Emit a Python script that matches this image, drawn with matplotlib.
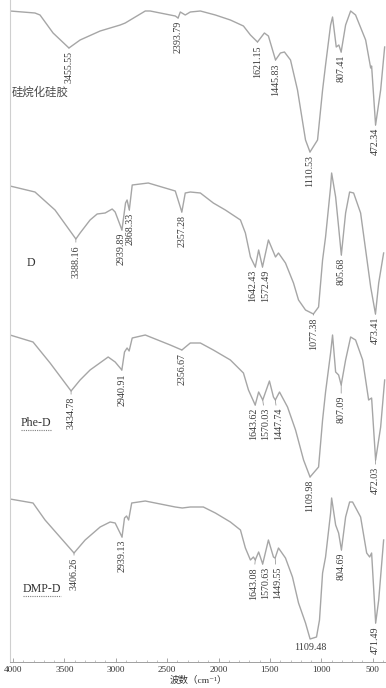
import numpy as np
import matplotlib
matplotlib.use('Agg')
import matplotlib.pyplot as plt
from matplotlib.ticker import MultipleLocator
from matplotlib.lines import Line2D
from matplotlib.transforms import IdentityTransform

plt.rcParams['font.family'] = ['Liberation Serif', 'Noto Sans CJK SC', 'DejaVu Serif']

# sample names, top to bottom
names = ['硅烷化硅胶', 'D', 'Phe-D', 'DMP-D']

# IR spectra: wavenumber (cm-1) and absorption depth (a.u., down = stronger)
wn_sg = [4029, 3786, 3737, 3610, 3455.55, 3347, 3152, 2957, 2908, 2713, 2665, 2421, 2393.79, 2372,
         2324, 2275, 2177, 2031, 1885, 1758, 1690, 1621.15, 1554, 1515, 1445.83, 1398, 1359, 1300,
         1232, 1154, 1110.53, 1037, 988, 959, 910, 891, 855, 830, 807.41, 764, 715, 667, 569, 520,
         511, 472.34, 423, 384]
dep_sg = [1, 3, 5, 23, 38, 30, 21, 15, 13, 1, 1, 6, 8, 2,
          5, 2, 1, 5, 10, 16, 25, 32, 23, 26, 50, 43, 42, 50,
          80, 130, 142, 130, 80, 55, 15, 7, 37, 35, 42, 15, 1, 5, 30, 58,
          56, 115, 80, 37]

wn_d = [4029, 3786, 3591, 3388.16, 3347, 3250, 3181, 3103, 3035, 3006, 2939.89, 2905, 2890, 2868.33,
        2840, 2684, 2421, 2357.28, 2324, 2275, 2177, 2051, 1934, 1787, 1739, 1690, 1642.43, 1610,
        1572.49, 1515, 1446, 1417, 1349, 1271, 1222, 1154, 1077.38, 1027, 988, 959, 910, 900, 861,
        832, 805.68, 764, 725, 686, 618, 569, 520, 473.41, 442, 394]
dep_d = [3, 9, 27, 56, 50, 37, 31, 30, 26, 29, 47, 20, 17, 27,
         2, 0, 8, 29, 10, 9, 10, 20, 27, 37, 50, 74, 84, 67,
         84, 57, 74, 70, 80, 100, 117, 127, 131, 124, 77, 54, 4, -10, 14,
         44, 72, 30, 9, 10, 30, 67, 104, 131, 100, 70]

wn_phe = [4029, 3805, 3639, 3434.78, 3347, 3250, 3074, 3006, 2940.91, 2915, 2890, 2870, 2840, 2713,
          2470, 2356.67, 2275, 2177, 2051, 1885, 1758, 1709, 1643.62, 1610, 1570.03, 1505, 1466,
          1447.74, 1407, 1329, 1251, 1173, 1109.98, 1027, 988, 959, 910, 891, 861, 832, 807.09, 764,
          715, 667, 598, 540, 511, 472.03, 423, 384]
dep_phe = [0, 7, 28, 56, 45, 35, 22, 27, 35, 17, 13, 16, 3, 0,
           10, 15, 8, 8, 15, 25, 38, 55, 70, 57, 65, 46, 62,
           65, 57, 72, 95, 125, 142, 132, 85, 57, 18, 0, 37, 40, 50, 25,
           2, 5, 25, 65, 63, 125, 92, 45]

wn_dmp = [4029, 3805, 3688, 3406.26, 3298, 3152, 3055, 3006, 2939.13, 2915, 2895, 2875, 2845, 2713,
          2421, 2353, 2275, 2148, 2031, 1885, 1787, 1739, 1690, 1661, 1643.08, 1610, 1570.63, 1515,
          1466, 1449.55, 1417, 1349, 1281, 1222, 1154, 1109.48, 1047, 1018, 988, 959, 910, 900, 861,
          832, 804.69, 764, 725, 696, 618, 559, 530, 511, 471.49, 442, 394]
dep_dmp = [1, 5, 22, 55, 42, 29, 24, 25, 39, 20, 18, 22, 5, 3,
           9, 10, 9, 9, 15, 24, 32, 50, 62, 59, 62, 54, 66, 42,
           59, 60, 50, 60, 79, 105, 125, 141, 139, 122, 75, 59, 15, 0, 27,
           35, 52, 19, 4, 4, 19, 55, 59, 55, 125, 102, 42]

# labelled peaks
peaks_sg = ['3455.55', '2393.79', '1621.15', '1445.83', '1110.53', '807.41', '472.34']
peaks_d = ['3388.16', '2939.89', '2868.33', '2357.28', '1642.43', '1572.49', '1077.38', '805.68', '473.41']
peaks_phe = ['3434.78', '2940.91', '2356.67', '1643.62', '1570.03', '1447.74', '1109.98', '807.09', '472.03']
peaks_dmp = ['3406.26', '2939.13', '1643.08', '1570.63', '1449.55', '1109.48', '804.69', '471.49']

x_ticks = [4000, 3500, 3000, 2500, 2000, 1500, 1000, 500]

spectra = [(wn_sg, dep_sg, peaks_sg), (wn_d, dep_d, peaks_d),
           (wn_phe, dep_phe, peaks_phe), (wn_dmp, dep_dmp, peaks_dmp)]

# layout: vertical baseline of each trace (in axis units), label nudges (px)
baselines = [10, 183, 335, 498]
name_pos = [(4010, 92), (3864, 263), (3922, 423), (3903, 589)]
nudge = {'3388.16': (0, 3), '2939.89': (-1, 0), '2868.33': (1, 0),
         '1642.43': (-3, 0), '1572.49': (3, 0), '1077.38': (0, 1),
         '3434.78': (0, 3), '1643.62': (-2, 0), '1570.03': (3, 5), '1447.74': (3, 5),
         '807.09': (0, 8), '472.03': (0, 4),
         '3406.26': (0, 2), '1643.08': (-2, 4), '1570.63': (3, 0), '1449.55': (2, 6)}
flat_labels = ['1109.48']

line_col = '#a6a6a6'
txt_col = '#3a3a3a'
pt = 72 / 100.0

fig = plt.figure(figsize=(3.86, 6.88), dpi=100)
ax = fig.add_axes([10 / 386, 26 / 688, 376 / 386, 662 / 688])

for (wn, dep, peaks), base in zip(spectra, baselines):
    wn = np.array(wn, dtype=float)
    y = base + np.array(dep, dtype=float)
    ax.plot(wn, y, color=line_col, lw=1.0)
    for p in peaks:
        v = float(p)
        yd = np.interp(v, wn[::-1], y[::-1])
        dx, dy = nudge.get(p, (0, 0))
        if p in flat_labels:
            ax.annotate(p, xy=(v, yd), xytext=(dx * pt, -(4 + dy) * pt), textcoords='offset points',
                        ha='center', va='top', fontsize=7.2, color=txt_col)
        else:
            ax.annotate(p, xy=(v, yd), xytext=(dx * pt, -(3 + dy) * pt), textcoords='offset points',
                        ha='center', va='top', rotation=90, fontsize=7.2, color=txt_col,
                        arrowprops=dict(arrowstyle='-', color='#8a8a8a', lw=0.5,
                                        shrinkA=0, shrinkB=0))

name_txt = []
for n, (nx, ny) in zip(names, name_pos):
    if n == names[0]:
        t = ax.text(nx, ny, n, ha='left', va='center', fontsize=8.2, color='#4a4a4a',
                    family=['Noto Sans CJK SC'])
    else:
        t = ax.text(nx, ny, n, ha='left', va='center', fontsize=8.6, color='#333333')
    name_txt.append(t)

ax.set_xlim(4029, 371)
ax.set_ylim(662, 0)
ax.set_xticks(x_ticks)
ax.xaxis.set_minor_locator(MultipleLocator(100))
ax.set_yticks([])
ax.tick_params(axis='x', which='major', direction='in', length=3, width=0.6, color='#999999',
               labelsize=6.6, labelcolor='#333333', pad=3)
ax.tick_params(axis='x', which='minor', direction='in', length=1.8, width=0.5, color='#aaaaaa')
for s in ['top', 'right']:
    ax.spines[s].set_visible(False)
ax.spines['left'].set_color('#cfcfcf')
ax.spines['left'].set_linewidth(0.8)
ax.spines['bottom'].set_color('#a0a0a0')
ax.spines['bottom'].set_linewidth(0.7)
ax.set_xlabel('波数（cm⁻¹）', fontsize=6.8, color='#333333', labelpad=1)

# wavy underline under the two english sample names
fig.canvas.draw()
for t in name_txt[2:]:
    bb = t.get_window_extent()
    fig.add_artist(Line2D([bb.x0, bb.x1], [bb.y0 - 1, bb.y0 - 1], transform=IdentityTransform(),
                          color='#7f7f7f', lw=0.8, ls=(0, (1, 1))))

fig.savefig('out.png', dpi=100)
